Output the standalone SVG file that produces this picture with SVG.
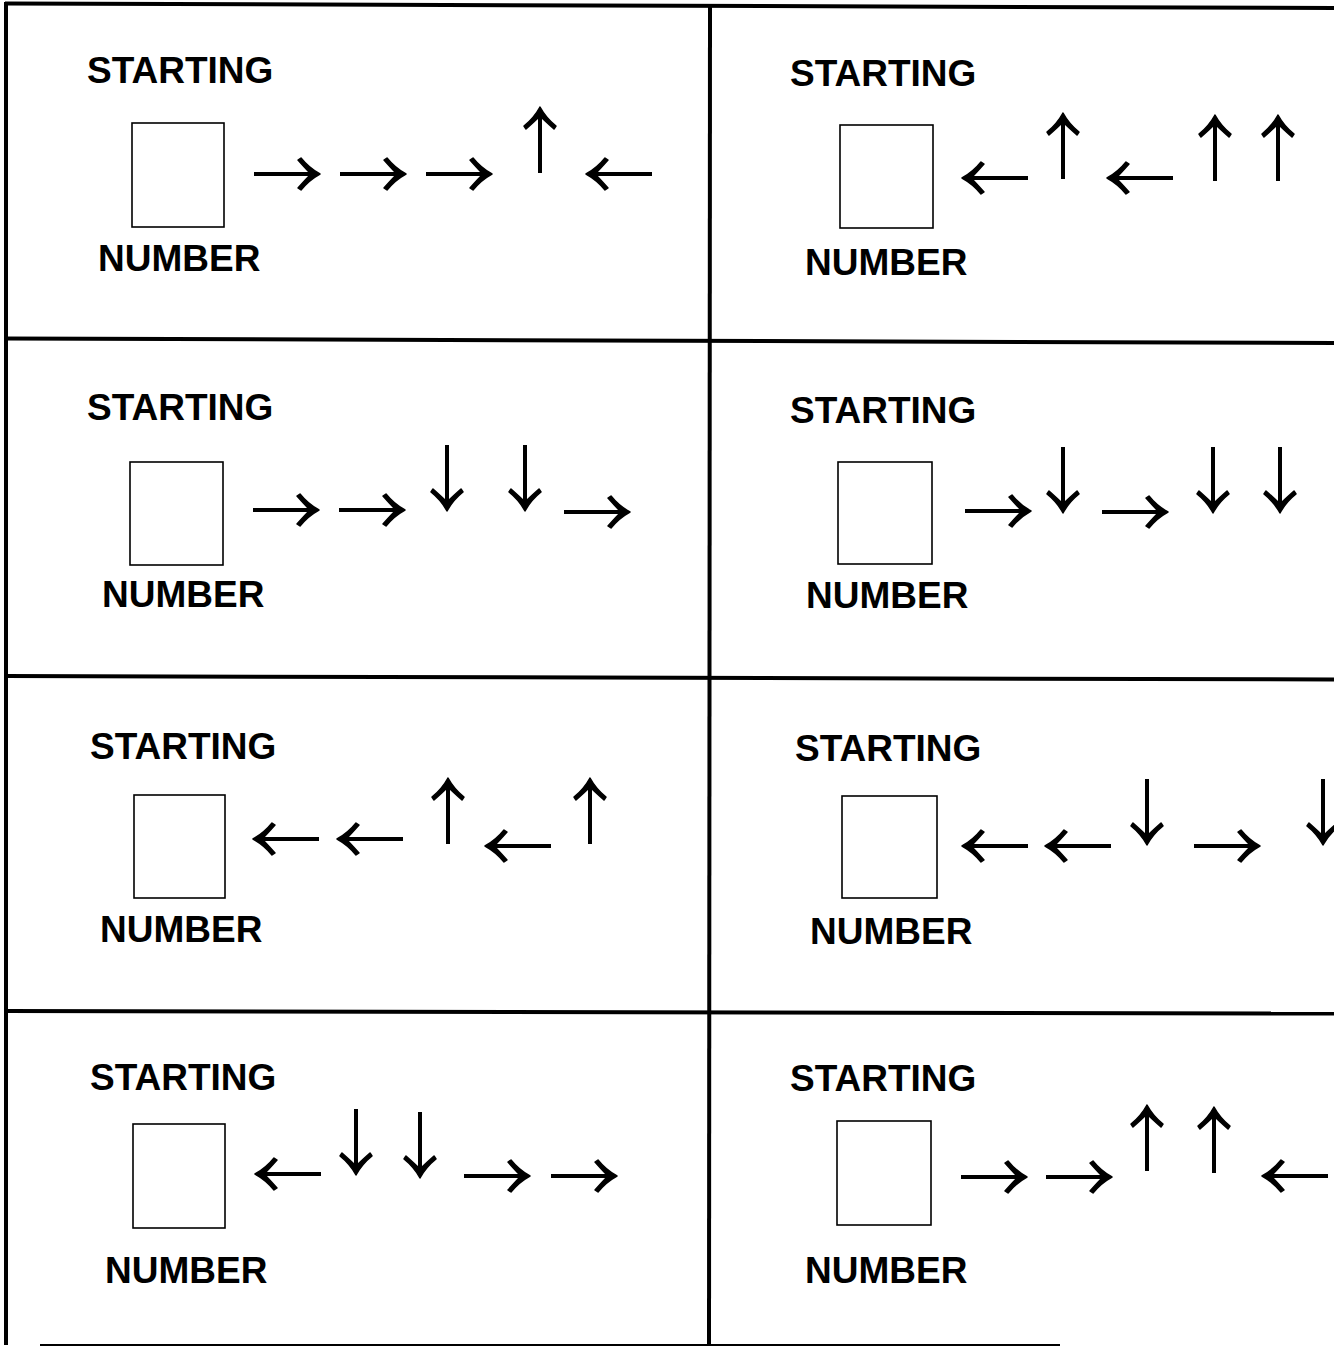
<svg xmlns="http://www.w3.org/2000/svg" xmlns:xlink="http://www.w3.org/1999/xlink" width="1334" height="1347" viewBox="0 0 1334 1347">
<style>
.lbl{font-family:"Liberation Sans",Arial,sans-serif;font-weight:bold;font-size:37px;fill:#000}
.box{fill:none;stroke:#000;stroke-width:1.6}
.grid{stroke:#000;stroke-width:4;fill:none}
.shaft{fill:none;stroke:#000;stroke-width:4}
.head{fill:#000;stroke:#000;stroke-width:1.5;stroke-linejoin:round}
</style>
<defs>
<g id="aR">
<path class="shaft" d="M-66,0 H-4"/>
<path class="head" d="M0,0 Q-11,-6 -19,-16 L-22,-14 Q-14,-5 -9,0 Q-14,5 -22,14 L-19,16 Q-11,6 0,0 Z"/>
</g>
</defs>
<rect width="1334" height="1347" fill="#fff"/>
<g id="grid">
<line class="grid" x1="5" y1="3.5" x2="1334" y2="8"/>
<line class="grid" x1="6" y1="2" x2="6" y2="1345"/>
<line class="grid" x1="710" y1="5" x2="709" y2="1346"/>
<line class="grid" x1="5" y1="338.5" x2="1334" y2="343"/>
<line class="grid" x1="5" y1="676" x2="1334" y2="679.5"/>
<line class="grid" x1="5" y1="1011" x2="1334" y2="1013.5"/>
<line x1="40" y1="1345" x2="1060" y2="1345" stroke="#000" stroke-width="2"/>
</g>
<g id="cell-r1-left">
<text class="lbl" x="87" y="83">STARTING</text>
<rect class="box" x="132" y="123" width="92" height="104"/>
<text class="lbl" x="98" y="271">NUMBER</text>
</g>
<g id="cell-r1-right">
<text class="lbl" x="790" y="86">STARTING</text>
<rect class="box" x="840" y="125" width="93" height="103"/>
<text class="lbl" x="805" y="275">NUMBER</text>
</g>
<g id="cell-r2-left">
<text class="lbl" x="87" y="420">STARTING</text>
<rect class="box" x="130" y="462" width="93" height="103"/>
<text class="lbl" x="102" y="607">NUMBER</text>
</g>
<g id="cell-r2-right">
<text class="lbl" x="790" y="423">STARTING</text>
<rect class="box" x="838" y="462" width="94" height="102"/>
<text class="lbl" x="806" y="608">NUMBER</text>
</g>
<g id="cell-r3-left">
<text class="lbl" x="90" y="759">STARTING</text>
<rect class="box" x="134" y="795" width="91" height="103"/>
<text class="lbl" x="100" y="942">NUMBER</text>
</g>
<g id="cell-r3-right">
<text class="lbl" x="795" y="761">STARTING</text>
<rect class="box" x="842" y="796" width="95" height="102"/>
<text class="lbl" x="810" y="944">NUMBER</text>
</g>
<g id="cell-r4-left">
<text class="lbl" x="90" y="1090">STARTING</text>
<rect class="box" x="133" y="1124" width="92" height="104"/>
<text class="lbl" x="105" y="1283">NUMBER</text>
</g>
<g id="cell-r4-right">
<text class="lbl" x="790" y="1091">STARTING</text>
<rect class="box" x="837" y="1121" width="94" height="104"/>
<text class="lbl" x="805" y="1283">NUMBER</text>
</g>
<g id="connectors">
<use xlink:href="#aR" transform="translate(320,174)"/>
<use xlink:href="#aR" transform="translate(406,174)"/>
<use xlink:href="#aR" transform="translate(492,174)"/>
<use xlink:href="#aR" transform="translate(540,107) rotate(-90)"/>
<use xlink:href="#aR" transform="translate(586,174) rotate(180)"/>
<use xlink:href="#aR" transform="translate(962,178) rotate(180)"/>
<use xlink:href="#aR" transform="translate(1063,113) rotate(-90)"/>
<use xlink:href="#aR" transform="translate(1107,178) rotate(180)"/>
<use xlink:href="#aR" transform="translate(1215,115) rotate(-90)"/>
<use xlink:href="#aR" transform="translate(1278,115) rotate(-90)"/>
<use xlink:href="#aR" transform="translate(319,510)"/>
<use xlink:href="#aR" transform="translate(405,510)"/>
<use xlink:href="#aR" transform="translate(447,511) rotate(90)"/>
<use xlink:href="#aR" transform="translate(525,511) rotate(90)"/>
<use xlink:href="#aR" transform="translate(630,512)"/>
<use xlink:href="#aR" transform="translate(1031,511)"/>
<use xlink:href="#aR" transform="translate(1063,513) rotate(90)"/>
<use xlink:href="#aR" transform="translate(1168,512)"/>
<use xlink:href="#aR" transform="translate(1213,513) rotate(90)"/>
<use xlink:href="#aR" transform="translate(1280,513) rotate(90)"/>
<use xlink:href="#aR" transform="translate(253,839) rotate(180)"/>
<use xlink:href="#aR" transform="translate(337,839) rotate(180)"/>
<use xlink:href="#aR" transform="translate(448,778) rotate(-90)"/>
<use xlink:href="#aR" transform="translate(485,846) rotate(180)"/>
<use xlink:href="#aR" transform="translate(590,778) rotate(-90)"/>
<use xlink:href="#aR" transform="translate(962,846) rotate(180)"/>
<use xlink:href="#aR" transform="translate(1045,846) rotate(180)"/>
<use xlink:href="#aR" transform="translate(1147,845) rotate(90)"/>
<use xlink:href="#aR" transform="translate(1260,846)"/>
<use xlink:href="#aR" transform="translate(1323,845) rotate(90)"/>
<use xlink:href="#aR" transform="translate(255,1174) rotate(180)"/>
<use xlink:href="#aR" transform="translate(356,1175) rotate(90)"/>
<use xlink:href="#aR" transform="translate(420,1178) rotate(90)"/>
<use xlink:href="#aR" transform="translate(530,1176)"/>
<use xlink:href="#aR" transform="translate(617,1176)"/>
<use xlink:href="#aR" transform="translate(1027,1177)"/>
<use xlink:href="#aR" transform="translate(1112,1177)"/>
<use xlink:href="#aR" transform="translate(1147,1105) rotate(-90)"/>
<use xlink:href="#aR" transform="translate(1214,1107) rotate(-90)"/>
<use xlink:href="#aR" transform="translate(1262,1176) rotate(180)"/>
</g>
</svg>
